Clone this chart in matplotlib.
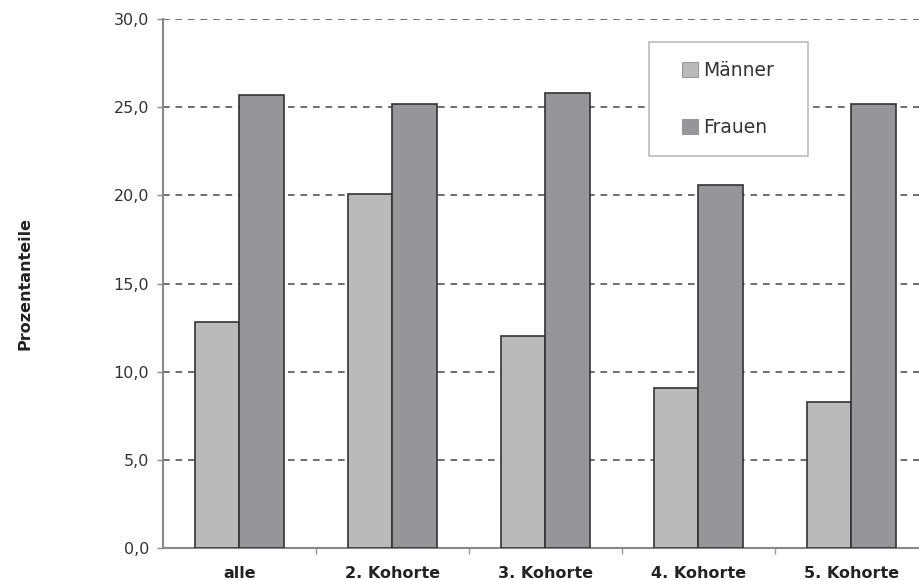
import matplotlib.pyplot as plt
from matplotlib.patches import Rectangle
import numpy as np

# values
kategorien = ['alle', '2. Kohorte', '3. Kohorte', '4. Kohorte', '5. Kohorte']
maenner = [12.8, 20.1, 12.0, 9.1, 8.3]
frauen = [25.7, 25.2, 25.8, 20.6, 25.2]
yticks = [0, 5, 10, 15, 20, 25, 30]

plt.rcParams['font.family'] = ['DejaVu Sans']

W, H = 920, 580
fig = plt.figure(figsize=(9.2, 5.8), dpi=100)
ax = fig.add_axes([163/W, 32/H, 765/W, 529/H])   # right edge runs past the figure like the original

x = np.arange(len(kategorien))
w = 0.29
ax.bar(x - w/2, maenner, w, color='#b9babc', edgecolor='#333333', linewidth=1.2, label='Männer', zorder=3)
ax.bar(x + w/2, frauen, w, color='#949699', edgecolor='#333333', linewidth=1.2, label='Frauen', zorder=3)

ax.set_xlim(-0.5, len(kategorien) - 0.5)
ax.set_ylim(0, 30)

# dashed grid lines
for v in yticks[1:]:
    ax.axhline(v, color='#555555', linestyle=(0, (4, 3.5)), linewidth=1.2, zorder=1)

ax.set_yticks(yticks)
ax.set_yticklabels([f'{v:.1f}'.replace('.', ',') for v in yticks], fontsize=11.5, color='#333333')
ax.set_xticks(x)
ax.set_xticklabels(kategorien, fontsize=11.5, fontweight='bold', color='#222222')
ax.set_xticks(np.arange(len(kategorien)) + 0.5, minor=True)
ax.tick_params(axis='x', which='major', length=0, pad=13)
ax.tick_params(axis='x', which='minor', length=4, color='#999999', width=1)
ax.tick_params(axis='y', length=4, color='#888888', width=1, pad=6)

for s in ['top', 'right']:
    ax.spines[s].set_visible(False)
for s in ['left', 'bottom']:
    ax.spines[s].set_color('#888888')
    ax.spines[s].set_linewidth(1.5)

ax.set_ylabel('Prozentanteile', fontsize=11.5, fontweight='bold', color='#222222', labelpad=58)

# legend frame drawn separately (wider box as in the original)
box = Rectangle((649/W, 1 - 156/H), (808-649)/W, (156-42)/H, transform=fig.transFigure,
                facecolor='white', edgecolor='#bbbbbb', linewidth=1.2, zorder=4)
fig.add_artist(box)

leg = fig.legend(*ax.get_legend_handles_labels(), loc='center left',
                 bbox_to_anchor=(682/W, 1 - 99/H), fontsize=13.5, frameon=False,
                 handlelength=0.85, handleheight=0.85, handletextpad=0.3,
                 labelspacing=2.0, borderpad=0, borderaxespad=0)
leg.set_zorder(5)
for h in leg.legend_handles:
    h.set_edgecolor('#999999')
    h.set_linewidth(0.8)
for t in leg.get_texts():
    t.set_color('#333333')

fig.savefig('out.png', dpi=100)
